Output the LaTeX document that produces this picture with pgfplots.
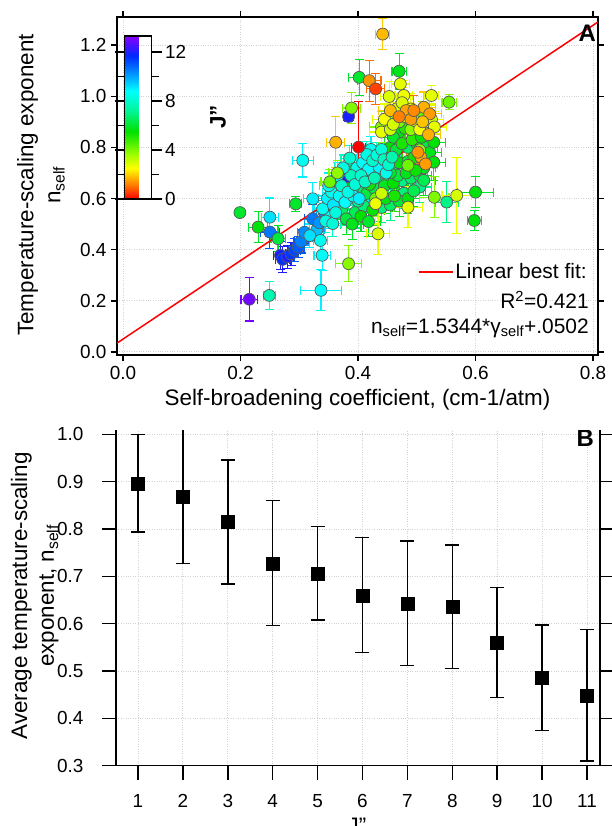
\documentclass[border=0pt]{standalone}
\usepackage{fontspec}
\setmainfont{Liberation Sans}
\usepackage{pgfplots}
\usepackage{pgfplotstable}
\pgfplotsset{compat=1.18}
\newcommand{\fz}{\fontsize{22.5}{27}\selectfont}
\newcommand{\ft}{\fontsize{19}{23}\selectfont}
\newcommand{\fl}{\fontsize{21}{25}\selectfont}

\definecolor{c0}{RGB}{255,0,0}
\definecolor{c1}{RGB}{255,107,0}
\definecolor{c2}{RGB}{255,200,0}
\definecolor{c3}{RGB}{232,255,0}
\definecolor{c4}{RGB}{130,250,0}
\definecolor{c5}{RGB}{35,232,0}
\definecolor{c6}{RGB}{0,229,35}
\definecolor{c7}{RGB}{0,243,132}
\definecolor{c8}{RGB}{0,250,200}
\definecolor{c9}{RGB}{0,242,255}
\definecolor{c10}{RGB}{0,160,255}
\definecolor{c11}{RGB}{0,85,255}
\definecolor{c12}{RGB}{30,30,255}
\definecolor{c13}{RGB}{120,0,255}

\pgfplotsset{
  grp/.style={forget plot, only marks, scatter, mark=*, mark size=6bp,
    scatter/use mapped color={draw=black!65, fill=mapped color, line width=0.7bp},
    point meta=explicit,
    error bars/.cd, x dir=both, x explicit, y dir=both, y explicit,
    error bar style={color=#1, line width=1.2bp},
    error mark options={rotate=90, mark size=4.5bp, color=#1, line width=1.2bp},
    /pgfplots/.cd},
}

\pgfplotstableread{
x y J ex ey
0.215 0.206 13.0 0.014 0.085
0.249 0.221 7.6 0.010 0.055
0.337 0.241 8.8 0.035 0.080
0.384 0.345 3.9 0.022 0.070
0.199 0.545 6.0 0.004 0.010
0.230 0.488 5.6 0.016 0.060
0.250 0.527 9.2 0.014 0.075
0.250 0.469 10.6 0.016 0.065
0.264 0.443 6.2 0.012 0.050
0.268 0.378 11.9 0.012 0.055
0.272 0.362 11.6 0.012 0.050
0.280 0.372 12.0 0.010 0.045
0.286 0.384 11.5 0.010 0.045
0.292 0.398 11.3 0.010 0.045
0.298 0.410 11.0 0.010 0.040
0.303 0.432 10.5 0.012 0.045
0.309 0.468 10.3 0.012 0.050
0.318 0.455 9.2 0.012 0.045
0.323 0.521 10.6 0.014 0.055
0.323 0.599 9.0 0.016 0.065
0.294 0.579 6.0 0.010 0.030
0.306 0.749 8.6 0.018 0.065
0.336 0.436 8.6 0.012 0.055
0.339 0.378 8.7 0.014 0.060
0.330 0.478 9.6 0.012 0.045
0.334 0.505 10.2 0.012 0.045
0.342 0.548 10.4 0.012 0.045
0.345 0.512 8.4 0.012 0.045
0.352 0.528 8.8 0.012 0.045
0.357 0.502 8.2 0.014 0.050
0.340 0.560 8.6 0.015 0.050
0.348 0.600 8.9 0.015 0.050
0.352 0.665 4.2 0.015 0.050
0.365 0.700 3.8 0.015 0.050
0.355 0.625 8.5 0.015 0.050
0.358 0.575 9.1 0.015 0.050
0.362 0.545 8.3 0.015 0.050
0.368 0.610 8.7 0.015 0.050
0.372 0.650 8.0 0.015 0.050
0.378 0.585 8.8 0.015 0.050
0.383 0.625 8.4 0.015 0.050
0.388 0.690 7.8 0.015 0.050
0.392 0.610 8.6 0.015 0.050
0.395 0.655 8.2 0.015 0.050
0.398 0.720 8.5 0.015 0.050
0.402 0.600 9.0 0.015 0.050
0.405 0.690 8.1 0.015 0.050
0.408 0.740 8.7 0.015 0.050
0.412 0.665 7.9 0.015 0.050
0.415 0.772 8.4 0.015 0.050
0.418 0.715 8.8 0.015 0.050
0.422 0.792 8.6 0.015 0.050
0.425 0.748 8.0 0.015 0.050
0.428 0.680 7.7 0.015 0.050
0.432 0.770 8.3 0.015 0.050
0.436 0.722 8.9 0.015 0.050
0.440 0.792 8.2 0.015 0.050
0.444 0.752 7.8 0.015 0.050
0.448 0.700 8.5 0.015 0.050
0.452 0.732 8.0 0.015 0.050
0.458 0.762 7.6 0.015 0.050
0.375 0.720 8.4 0.015 0.050
0.386 0.758 8.0 0.015 0.050
0.365 0.690 8.8 0.015 0.050
0.350 0.650 8.5 0.015 0.050
0.380 0.520 6.2 0.020 0.060
0.390 0.500 5.8 0.020 0.060
0.395 0.545 6.5 0.020 0.060
0.405 0.530 5.5 0.020 0.060
0.410 0.570 6.8 0.020 0.060
0.418 0.510 6.0 0.020 0.060
0.425 0.555 5.4 0.020 0.060
0.432 0.590 6.3 0.020 0.060
0.440 0.565 7.0 0.020 0.060
0.447 0.600 5.7 0.020 0.060
0.455 0.575 6.6 0.020 0.060
0.462 0.610 5.2 0.020 0.060
0.470 0.590 6.1 0.020 0.060
0.478 0.620 6.9 0.020 0.060
0.485 0.600 5.6 0.020 0.060
0.495 0.630 6.4 0.020 0.060
0.505 0.645 7.1 0.020 0.060
0.415 0.620 6.2 0.020 0.060
0.400 0.590 7.2 0.020 0.060
0.372 0.555 6.6 0.020 0.060
0.385 0.640 6.0 0.020 0.060
0.398 0.670 5.6 0.020 0.060
0.410 0.635 6.7 0.020 0.060
0.420 0.655 5.3 0.020 0.060
0.428 0.640 6.4 0.020 0.060
0.436 0.665 7.0 0.020 0.060
0.445 0.650 5.9 0.020 0.060
0.452 0.680 6.5 0.020 0.060
0.460 0.660 5.5 0.020 0.060
0.468 0.690 6.2 0.020 0.060
0.475 0.670 7.1 0.020 0.060
0.482 0.700 5.8 0.020 0.060
0.490 0.680 6.6 0.020 0.060
0.498 0.710 5.4 0.020 0.060
0.505 0.690 6.3 0.020 0.060
0.512 0.720 5.9 0.020 0.060
0.460 0.720 6.8 0.020 0.060
0.470 0.740 5.6 0.020 0.060
0.485 0.745 6.2 0.020 0.060
0.495 0.760 5.3 0.020 0.060
0.455 0.700 6.0 0.020 0.060
0.440 0.700 6.9 0.020 0.060
0.425 0.700 5.7 0.020 0.060
0.445 0.780 6.4 0.020 0.060
0.455 0.800 5.5 0.020 0.060
0.465 0.790 6.1 0.020 0.060
0.475 0.815 5.2 0.020 0.060
0.485 0.800 6.6 0.020 0.060
0.492 0.830 5.0 0.020 0.060
0.500 0.815 5.9 0.020 0.060
0.508 0.840 5.4 0.020 0.060
0.515 0.800 6.3 0.020 0.060
0.522 0.780 5.8 0.020 0.060
0.529 0.820 5.5 0.020 0.070
0.529 0.742 5.6 0.020 0.070
0.512 0.671 6.4 0.020 0.060
0.470 0.860 5.7 0.020 0.060
0.480 0.875 5.1 0.020 0.060
0.460 0.840 6.0 0.020 0.060
0.390 0.705 6.5 0.020 0.060
0.470 1.098 5.8 0.012 0.070
0.402 1.074 6.0 0.018 0.070
0.551 0.586 7.0 0.020 0.080
0.600 0.625 5.6 0.030 0.060
0.598 0.514 5.6 0.012 0.040
0.376 0.664 12.0 0.012 0.040
0.439 0.697 10.2 0.012 0.040
0.384 0.921 12.0 0.008 0.020
0.389 0.954 4.0 0.015 0.060
0.555 0.977 4.2 0.012 0.030
0.530 0.605 4.0 0.025 0.080
0.430 0.600 4.2 0.020 0.070
0.470 0.900 4.0 0.020 0.060
0.490 0.870 3.8 0.020 0.060
0.510 0.920 4.3 0.020 0.060
0.440 0.880 3.9 0.020 0.060
0.460 0.930 4.1 0.020 0.060
0.505 0.790 3.7 0.020 0.060
0.485 0.730 4.2 0.020 0.060
0.472 1.048 2.8 0.015 0.060
0.453 0.999 2.9 0.015 0.060
0.478 1.003 2.7 0.015 0.060
0.525 1.003 2.8 0.012 0.040
0.434 0.462 2.9 0.020 0.080
0.485 0.566 2.8 0.025 0.080
0.568 0.612 3.0 0.025 0.150
0.440 0.860 2.8 0.020 0.060
0.455 0.870 3.1 0.020 0.060
0.445 0.910 2.6 0.020 0.060
0.465 0.950 3.0 0.020 0.060
0.480 0.920 2.7 0.020 0.060
0.500 0.900 3.2 0.020 0.060
0.515 0.880 2.9 0.020 0.060
0.520 0.855 3.1 0.020 0.060
0.490 0.950 2.8 0.020 0.060
0.460 0.890 3.0 0.020 0.060
0.430 0.580 2.7 0.020 0.080
0.440 0.620 3.1 0.020 0.080
0.475 0.975 2.9 0.020 0.060
0.505 0.870 2.6 0.020 0.060
0.525 0.910 3.0 0.020 0.060
0.530 0.880 2.8 0.020 0.060
0.442 1.243 1.8 0.012 0.060
0.419 1.061 1.4 0.020 0.080
0.430 1.029 0.6 0.015 0.060
0.362 0.820 1.7 0.015 0.100
0.482 0.944 1.6 0.020 0.060
0.495 0.944 1.3 0.020 0.060
0.512 0.957 1.7 0.020 0.060
0.522 0.931 1.5 0.020 0.060
0.502 0.781 1.4 0.020 0.060
0.507 0.762 1.6 0.020 0.060
0.455 0.944 1.8 0.020 0.060
0.490 0.910 1.5 0.020 0.060
0.510 0.900 1.9 0.020 0.060
0.470 0.920 1.2 0.020 0.060
0.520 0.850 1.7 0.020 0.060
0.515 0.735 1.5 0.020 0.060
0.401 0.801 0.0 0.012 0.180
}\scatterdata

\begin{document}
\begin{tikzpicture}
\useasboundingbox (0,0) rectangle (612bp,826bp);
% ---------------- Panel A ----------------
\begin{axis}[
  at={(117bp,471bp)}, anchor=south west,
  scale only axis, width=481bp, height=338bp,
  xmin=-0.0102, xmax=0.8085, ymin=-0.012, ymax=1.31,
  xtick={0,0.2,0.4,0.6,0.8}, ytick={0,0.2,0.4,0.6,0.8,1.0,1.2},
  /pgf/number format/assume math mode=true,
  xticklabel style={/pgf/number format/.cd, fixed, fixed zerofill, precision=1, /tikz/.cd, yshift=-2bp},
  yticklabel style={/pgf/number format/.cd, fixed, fixed zerofill, precision=1, /tikz/.cd, xshift=-1bp},
  tick label style={font=\ft},
  label style={font=\fz},
  tick align=outside, major tick length=6bp,
  axis line style={line width=1.5bp},
  tick style={line width=1.5bp, black},
  grid=major, grid style={dotted, gray!35, line width=0.9bp},
  xlabel={Self-broadening coefficient, (cm-1/atm)},
  xlabel style={at={(axis description cs:0.5,-0.133)}, anchor=center},
  ylabel={Temperature-scaling exponent\\n\textsubscript{self}},
  ylabel style={align=center, at={(axis description cs:-0.158,0.503)}, anchor=center},
  colormap={igorrainbow}{rgb255(0cm)=(255,0,0); rgb255(1.2cm)=(255,128,0); rgb255(2.5cm)=(255,255,0); rgb255(3.6cm)=(160,255,0); rgb255(5.5cm)=(0,225,0); rgb255(7.2cm)=(0,245,150); rgb255(8.8cm)=(0,255,255); rgb255(10.2cm)=(0,150,255); rgb255(11.7cm)=(0,40,255); rgb255(13.3cm)=(140,0,255)},
  point meta min=0, point meta max=13.3,
  colorbar,
  colorbar style={
    at={(parent axis.north west)}, anchor=north west, xshift=-1bp, yshift=-19bp,
    scale only axis, width=27bp, height=163bp,
    ytick={0,4,8,12}, minor ytick={2,6,10},
    yticklabel pos=right,
    tick align=outside, major tick length=10bp, minor tick length=7bp,
    yticklabel style={font=\ft, /pgf/number format/assume math mode=true},
    axis line style={line width=1.5bp},
    tick style={line width=1.5bp, black},
    grid=none,
  },
  legend style={draw=none, fill=none, at={(0.981,0.246)}, anchor=east, font=\fl, inner sep=0pt},
  legend image code/.code={\draw[#1, line width=1.5bp] (0bp,0bp) -- (34bp,0bp);},
  clip=true,
]
\addplot[restrict expr to domain={\thisrow{J}}{12.5:13.45}, grp=c13] table[x=x, y=y, x error=ex, y error=ey, meta=J] {\scatterdata};
\addplot[restrict expr to domain={\thisrow{J}}{11.5:12.45}, grp=c12] table[x=x, y=y, x error=ex, y error=ey, meta=J] {\scatterdata};
\addplot[restrict expr to domain={\thisrow{J}}{10.5:11.45}, grp=c11] table[x=x, y=y, x error=ex, y error=ey, meta=J] {\scatterdata};
\addplot[restrict expr to domain={\thisrow{J}}{9.5:10.45}, grp=c10] table[x=x, y=y, x error=ex, y error=ey, meta=J] {\scatterdata};
\addplot[restrict expr to domain={\thisrow{J}}{6.5:7.45}, grp=c7] table[x=x, y=y, x error=ex, y error=ey, meta=J] {\scatterdata};
\addplot[restrict expr to domain={\thisrow{J}}{5.5:6.45}, grp=c6] table[x=x, y=y, x error=ex, y error=ey, meta=J] {\scatterdata};
\addplot[restrict expr to domain={\thisrow{J}}{4.5:5.45}, grp=c5] table[x=x, y=y, x error=ex, y error=ey, meta=J] {\scatterdata};
\addplot[restrict expr to domain={\thisrow{J}}{8.5:9.45}, grp=c9] table[x=x, y=y, x error=ex, y error=ey, meta=J] {\scatterdata};
\addplot[restrict expr to domain={\thisrow{J}}{7.5:8.45}, grp=c8] table[x=x, y=y, x error=ex, y error=ey, meta=J] {\scatterdata};
\addplot[restrict expr to domain={\thisrow{J}}{3.5:4.45}, grp=c4] table[x=x, y=y, x error=ex, y error=ey, meta=J] {\scatterdata};
\addplot[restrict expr to domain={\thisrow{J}}{2.5:3.45}, grp=c3] table[x=x, y=y, x error=ex, y error=ey, meta=J] {\scatterdata};
\addplot[restrict expr to domain={\thisrow{J}}{1.5:2.45}, grp=c2] table[x=x, y=y, x error=ex, y error=ey, meta=J] {\scatterdata};
\addplot[restrict expr to domain={\thisrow{J}}{0.5:1.45}, grp=c1] table[x=x, y=y, x error=ex, y error=ey, meta=J] {\scatterdata};
\addplot[restrict expr to domain={\thisrow{J}}{-0.5:0.45}, grp=c0] table[x=x, y=y, x error=ex, y error=ey, meta=J] {\scatterdata};
\addplot[red, line width=1.5bp] coordinates {(-0.0102,0.0345) (0.8085,1.2907)};
\addlegendentry{Linear best fit:}
\node[anchor=east, font=\fl, inner sep=0pt] at (rel axis cs:0.981,0.163) {R\textsuperscript{2}=0.421};
\node[anchor=east, font=\fl, inner sep=0pt] at (rel axis cs:0.981,0.080) {n\textsubscript{self}=1.5344*γ\textsubscript{self}+.0502};
\node[rotate=90, font=\fz\bfseries] at (rel axis cs:0.21,0.704) {J"};
\node[anchor=north east, font=\fontsize{24}{28}\selectfont\bfseries, inner sep=0pt] at (rel axis cs:0.996,0.976) {A};
\end{axis}
% ---------------- Panel B ----------------
\begin{axis}[
  at={(116bp,60.3bp)}, anchor=south west,
  scale only axis, width=484bp, height=335.7bp,
  xmin=0.51, xmax=11.29, ymin=0.3, ymax=1.009,
  axis x line*=bottom, axis y line*=box,
  xtick={1,2,3,4,5,6,7,8,9,10,11},
  ytick={0.3,0.4,0.5,0.6,0.7,0.8,0.9,1.0},
  /pgf/number format/assume math mode=true,
  xticklabel style={yshift=-11bp},
  yticklabel style={/pgf/number format/.cd, fixed, fixed zerofill, precision=1, /tikz/.cd, xshift=-15bp},
  tick label style={font=\ft},
  label style={font=\fz},
  tick align=outside, major tick length=14bp,
  axis line style={line width=1.5bp},
  tick style={line width=1.5bp, black},
  grid=major, grid style={dotted, gray!35, line width=0.9bp},
  xlabel={J"},
  xlabel style={at={(axis description cs:0.498,-0.178)}, anchor=center},
  ylabel={Average temperature-scaling\\exponent, n\textsubscript{self}},
  ylabel style={align=center, at={(axis description cs:-0.168,0.506)}, anchor=center},
]
\addplot[
  only marks, mark=square*, mark size=6.5bp, black,
  error bars/.cd, y dir=both, y explicit,
  error bar style={line width=1.5bp, black},
  error mark options={rotate=90, mark size=7bp, line width=1.5bp, black},
] coordinates {
  (1,0.896) += (0,0.104) -= (0,0.102)
  (2,0.868) += (0,0.143) -= (0,0.141)
  (3,0.815) += (0,0.131) -= (0,0.131)
  (4,0.727) += (0,0.133) -= (0,0.131)
  (5,0.706) += (0,0.099) -= (0,0.098)
  (6,0.659) += (0,0.123) -= (0,0.120)
  (7,0.643) += (0,0.132) -= (0,0.131)
  (8,0.636) += (0,0.130) -= (0,0.131)
  (9,0.560) += (0,0.116) -= (0,0.116)
  (10,0.486) += (0,0.111) -= (0,0.112)
  (11,0.448) += (0,0.140) -= (0,0.138)
};
\node[anchor=north east, font=\fontsize{24}{28}\selectfont\bfseries, inner sep=0pt] at (rel axis cs:0.988,1.0) {B};
\end{axis}
\end{tikzpicture}
\end{document}
